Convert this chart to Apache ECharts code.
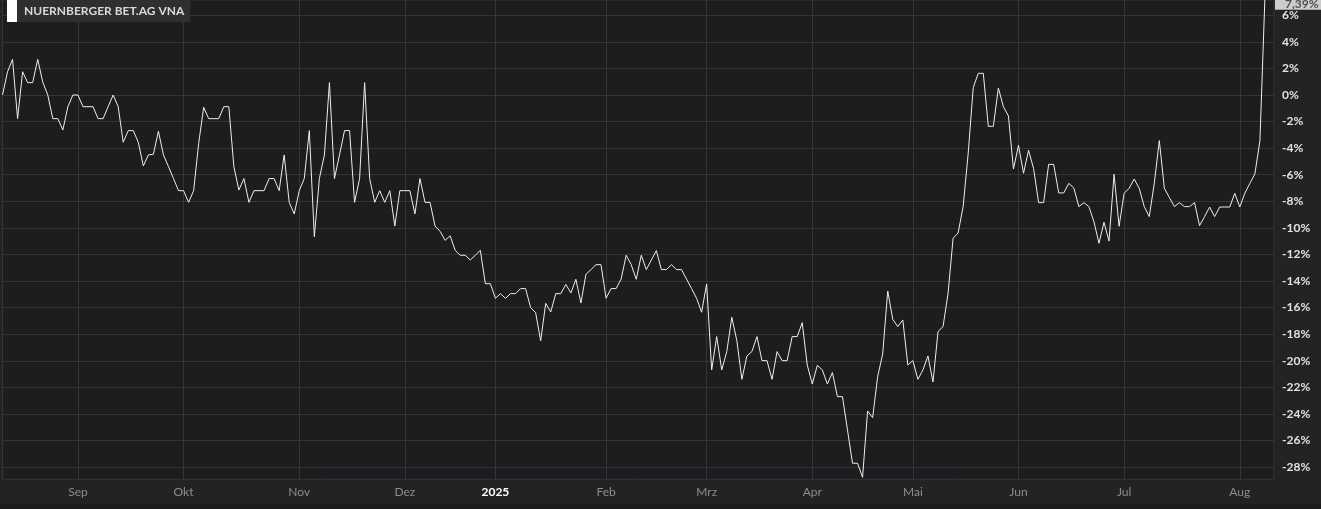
<!DOCTYPE html>
<html>
<head>
<meta charset="utf-8">
<script src="https://cdn.jsdelivr.net/npm/echarts@6/dist/echarts.min.js"></script>
<style>
  html, body { margin: 0; padding: 0; background: #1a1c1e; overflow: hidden; }
  #chart { width: 1321px; height: 504px; }
</style>
</head>
<body>
<div id="chart"></div>
<script>
// Series name
const seriesName = 'NUERNBERGER BET.AG VNA';

// Performance in % per trading day (index 0 = 12 Aug 2024 ... index 251 = 8 Aug 2025)
const values = [
  0, 1.75, 2.68, -1.78, 1.75, 0.93, 0.93, 2.68, 0.98, 0,
  -1.78, -1.78, -2.63, -0.88, 0, 0, -0.88, -0.88, -0.88, -1.78,
  -1.78, -0.88, 0, -0.88, -3.56, -2.68, -2.68, -3.56, -5.34, -4.51,
  -4.46, -2.73, -4.51, -5.39, -6.29, -7.2, -7.2, -8.08, -7.2, -3.64,
  -0.93, -1.78, -1.78, -1.78, -0.88, -0.88, -5.39, -7.15, -6.29, -8.08,
  -7.2, -7.2, -7.2, -6.29, -6.29, -7.2, -4.51, -8.08, -8.95, -7.2,
  -6.29, -2.68, -10.66, -6.29, -4.51, 0.93, -6.29, -4.51, -2.68, -2.68,
  -8.08, -6.29, 0.93, -6.29, -8.08, -7.2, -8.08, -7.2, -9.86, -7.2,
  -7.2, -7.2, -8.95, -6.29, -8.08, -8.08, -9.86, -10.26, -10.94, -10.6,
  -11.69, -12.06, -12.06, -12.42, -12.06, -11.69, -14.2, -14.2, -15.3, -14.95,
  -15.3, -14.95, -14.95, -14.57, -14.57, -16.0, -16.38, -18.5, -15.68, -16.33,
  -14.95, -14.95, -14.25, -14.9, -13.87, -15.65, -13.49, -13.14, -12.77, -12.77,
  -15.3, -14.57, -14.57, -13.85, -12.06, -12.77, -13.87, -12.06, -13.14, -12.42,
  -11.71, -13.14, -13.14, -12.77, -13.14, -13.14, -13.85, -14.57, -15.3, -16.35,
  -14.22, -20.69, -18.18, -20.69, -19.31, -16.73, -18.48, -21.4, -19.64, -19.31,
  -18.18, -19.99, -19.99, -21.4, -19.31, -19.99, -19.99, -18.18, -18.18, -17.13,
  -20.32, -21.75, -20.34, -20.69, -21.75, -20.89, -22.7, -22.7, -25.2, -27.71,
  -27.71, -28.77, -23.78, -24.28, -21.19, -19.49, -14.75, -16.88, -17.43, -16.93,
  -20.32, -19.99, -21.4, -20.69, -19.64, -21.6, -17.8, -17.43, -14.92, -10.78,
  -10.38, -8.38, -4.39, 0.55, 1.63, 1.63, -2.36, -2.36, 0.53, -0.88,
  -1.58, -5.57, -3.79, -5.89, -4.16, -5.54, -8.1, -8.1, -5.22, -5.22,
  -7.37, -7.37, -6.65, -7.0, -8.4, -8.1, -8.4, -9.53, -11.16, -9.58,
  -10.99, -5.97, -9.88, -7.4, -7.02, -6.32, -7.02, -8.4, -9.15, -6.65,
  -3.43, -7.02, -7.72, -8.4, -8.1, -8.4, -8.4, -8.1, -9.83, -9.15,
  -8.43, -9.15, -8.43, -8.43, -8.43, -7.4, -8.43, -7.4, -6.65, -5.94,
  -3.45, 7.39
];

// Month start positions (trading day index) and their labels
const monthTicks  = [15, 36, 59, 80, 98, 120, 140, 161, 181, 202, 223, 246];
const monthLabels = ['Sep', 'Okt', 'Nov', 'Dez', '2025', 'Feb', 'Mrz', 'Apr', 'Mai', 'Jun', 'Jul', 'Aug'];

// Y tick values (%)
const yTicks = [-28, -26, -24, -22, -20, -18, -16, -14, -12, -10, -8, -6, -4, -2, 0, 2, 4, 6];

const lastValueLabel = '7,39%';

const chart = echarts.init(document.getElementById('chart'), null, { renderer: 'canvas' });

const GRID_RIGHT = 47;
const option = {
  animation: false,
  backgroundColor: '#232323',
  textStyle: { fontFamily: 'Lato, sans-serif' },
  title: {
    left: 7, top: 0, padding: 0,
    text: '{sq|}{nm|' + seriesName + '}',
    textStyle: {
      rich: {
        sq: { width: 10, height: 22, backgroundColor: '#ffffff' },
        nm: {
          height: 22, lineHeight: 22, padding: [0, 6, 0, 7],
          backgroundColor: '#2d2f31', color: '#d9d9d9',
          fontFamily: 'Lato', fontWeight: 'bold', fontSize: 12
        }
      }
    }
  },
  grid: {
    left: 2.5, right: GRID_RIGHT, top: 0, bottom: 24.7,
    show: true, backgroundColor: '#1b1d1f', borderColor: '#333537', borderWidth: 1
  },
  xAxis: {
    type: 'value',
    min: 0, max: 252.8,
    axisLine: { show: false },
    axisTick: { show: false, customValues: monthTicks },
    splitLine: { show: true, lineStyle: { color: '#333537', width: 1 } },
    axisLabel: {
      customValues: monthTicks,
      margin: 7,
      color: '#8c8c8c',
      fontFamily: 'Lato',
      fontSize: 12,
      formatter: function (v) {
        const i = monthTicks.indexOf(v);
        const t = i >= 0 ? monthLabels[i] : '';
        return t === '2025' ? '{y|' + t + '}' : t;
      },
      rich: { y: { color: '#ffffff', fontWeight: 'bold', fontSize: 12, fontFamily: 'Lato' } }
    }
  },
  yAxis: {
    type: 'value',
    position: 'right',
    min: -28.92, max: 7.148,
    axisLine: { show: false },
    axisTick: { show: false, customValues: yTicks },
    splitLine: { show: true, lineStyle: { color: '#333537', width: 1 } },
    axisLabel: {
      customValues: yTicks,
      margin: 8,
      color: '#e2e2e2',
      fontFamily: 'Lato',
      fontWeight: 'bold',
      fontSize: 12,
      formatter: function (v) { return v + '%'; }
    }
  },
  series: [{
    name: seriesName,
    type: 'line',
    data: values.map(function (v, i) { return [i, v]; }),
    showSymbol: false,
    symbol: 'none',
    clip: false,
    lineStyle: { color: '#eeeeee', width: 1 }
  }]
};

chart.setOption(option);

// Last-value badge placed on the value axis via the library's scale
const lastVal = values[values.length - 1];
const py = chart.convertToPixel({ yAxisIndex: 0 }, lastVal);
chart.setOption({
  graphic: [{
    type: 'text',
    x: chart.getWidth() - GRID_RIGHT + 1,
    y: py,
    z: 100,
    style: {
      text: lastValueLabel,
      fill: '#505050',
      font: 'bold 12px Lato',
      lineHeight: 12,
      backgroundColor: '#cccccc',
      padding: [1, 6, 0, 10],
      align: 'left',
      verticalAlign: 'top'
    }
  }]
});
</script>
</body>
</html>
